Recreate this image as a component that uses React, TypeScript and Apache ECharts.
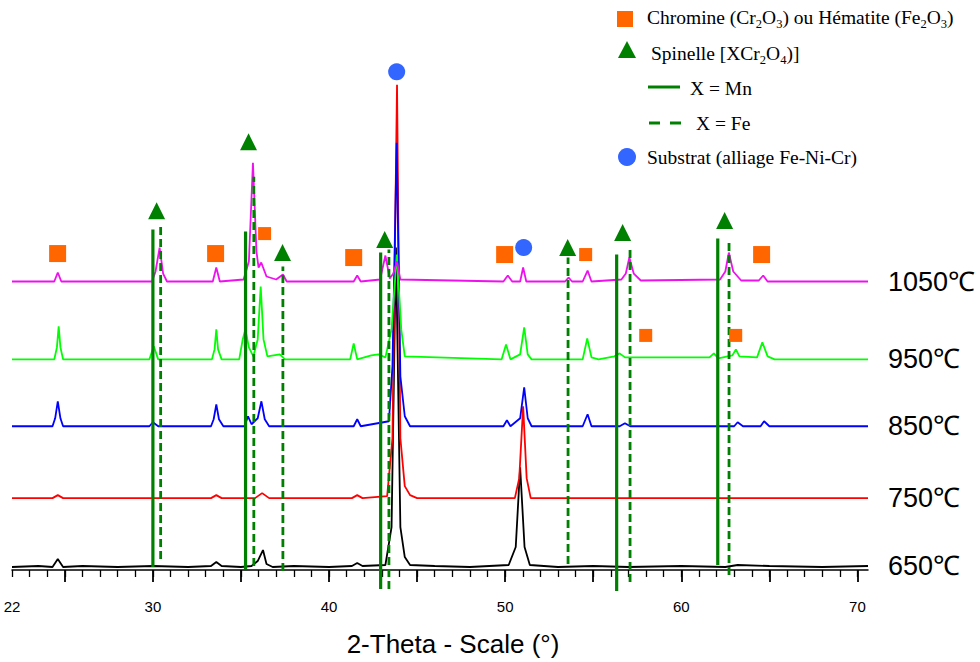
import React, { useEffect, useRef } from "react";
import * as echarts from "echarts";

// ---------- DATA ----------
const tempLabels = ["650℃", "750℃", "850℃", "950℃", "1050℃"];
const traceColors = ["#000000", "#FF0000", "#0000FF", "#00FF00", "#EE11EE"];
// vertical stacking offsets of each pattern (intensity units)
const offsets = [3, 72, 144, 211, 289];

// [2θ, intensity above baseline]
const trace650: [number, number][] = [
  [22, 0], [23.5, 1], [24.3, 0], [24.6, 8], [24.9, 0], [26, 1], [28, 0], [30, 1], [32, 0],
  [33.3, 1], [33.6, 5], [33.9, 1], [35, 0], [35.6, 1], [35.95, 6], [36.25, 17], [36.45, 3],
  [36.8, 0], [38, 1], [40, 0], [41.3, 1], [41.6, 4], [41.9, 1], [43.2, 2], [43.55, 40],
  [43.8, 320], [44.05, 40], [44.3, 10], [44.6, 2], [46, 1], [48, 0], [50.2, 2], [50.6, 20],
  [50.85, 100], [51.1, 20], [51.4, 2], [53, 0], [55, 1], [57, 0], [60, 1], [62.5, 0],
  [63.2, 2], [65, 1], [68, 0], [70.6, 1],
];
const trace750: [number, number][] = [
  [22, 0], [24.3, 0], [24.6, 3], [24.9, 0], [30, 0], [33.3, 0], [33.6, 3], [33.9, 0],
  [35.8, 0], [36.2, 5], [36.6, 0], [41.3, 0], [41.6, 3], [41.9, 0], [43.3, 2], [43.6, 60],
  [43.86, 414], [44.05, 60], [44.3, 12], [44.6, 3], [45, 0], [50.55, 0], [50.8, 20],
  [51.02, 92], [51.22, 20], [51.45, 0], [70.6, 0],
];
const trace850: [number, number][] = [
  [22, 0], [24.3, 0], [24.45, 8], [24.6, 25], [24.75, 8], [24.9, 0], [29.8, 0], [30, 4],
  [30.3, 0], [33.3, 0], [33.45, 7], [33.6, 22], [33.75, 7], [34, 0], [35.2, 0], [35.4, 10],
  [35.6, 2], [35.95, 8], [36.16, 25], [36.35, 7], [36.6, 0], [41.4, 0], [41.6, 7], [41.8, 0],
  [43.4, 5], [43.6, 60], [43.84, 284], [44.05, 50], [44.3, 10], [44.6, 0], [49.9, 0],
  [50.1, 6], [50.3, 0], [50.85, 8], [51.08, 39], [51.28, 8], [51.5, 0], [54.4, 0],
  [54.68, 12], [54.9, 0], [56.5, 0], [56.8, 3], [57.1, 0], [63, 0], [63.2, 4], [63.5, 0],
  [64.5, 0], [64.7, 5], [65, 0], [70.6, 0],
];
const trace950: [number, number][] = [
  [22, 0], [24.4, 0], [24.55, 12], [24.65, 33], [24.75, 12], [24.9, 0], [29.8, 0],
  [30.05, 13], [30.3, 0], [33.35, 0], [33.5, 10], [33.6, 30], [33.7, 10], [33.9, 0],
  [34.9, 0], [35.1, 20], [35.25, 30], [35.45, 12], [35.7, 3], [35.95, 20], [36.12, 73],
  [36.28, 20], [36.5, 3], [37.2, 5], [37.5, 0], [41.2, 0], [41.4, 16], [41.6, 0],
  [42.4, 4], [42.8, 5], [43.2, 2], [43.55, 30], [43.85, 105], [44.1, 30], [44.3, 3],
  [49.8, 0], [50.05, 15], [50.3, 0], [50.85, 5], [51.08, 32], [51.28, 5], [51.5, 0],
  [54.4, 0], [54.66, 21], [54.9, 2], [55.3, 0], [56.2, 3], [56.5, 6], [56.8, 2],
  [61.6, 2], [61.85, 6], [62.1, 1], [62.9, 4], [63.1, 10], [63.3, 3], [64.3, 2],
  [64.6, 17], [64.9, 3], [65.3, 0], [70.6, 0],
];
const trace1050: [number, number][] = [
  [22, 0], [24.4, 0], [24.6, 9], [24.8, 0], [29.95, 0], [30.15, 10], [30.38, 34],
  [30.58, 8], [30.8, 0], [33.4, 0], [33.6, 14], [33.8, 0], [35.15, 2], [35.45, 20],
  [35.68, 119], [35.88, 30], [36.0, 14], [36.15, 19], [36.45, 5], [37, 2], [37.38, 7],
  [37.6, 0], [41.4, 0], [41.6, 6], [41.8, 0], [42.9, 2], [43.2, 26], [43.45, 3],
  [43.65, 8], [43.85, 20], [44.05, 2], [49.9, 0], [50.15, 6], [50.4, 0], [50.85, 0],
  [51.02, 14], [51.2, 0], [53.4, 0], [53.6, 4], [53.8, 0], [54.4, 0], [54.68, 11],
  [54.9, 0], [56.6, 2], [56.85, 8], [57.05, 24], [57.3, 8], [57.7, 1], [62.2, 2],
  [62.5, 10], [62.7, 29], [62.95, 10], [63.4, 1], [64.4, 1], [64.65, 6], [64.9, 0],
  [70.6, 0],
];
const traces = [trace650, trace750, trace850, trace950, trace1050];

// reference lines [2θ, bottom, top]
const mnLines: [number, number, number][] = [
  [30.0, 3, 341], [35.26, 1, 339], [42.93, -19, 318], [56.33, -21, 316], [62.07, 5, 332],
];
const feLines: [number, number, number][] = [
  [30.44, 11, 344], [35.73, 4, 394], [37.38, -1, 304], [43.4, -19, 321],
  [53.57, 6, 313], [57.09, -12, 321], [62.71, -5, 329],
];

// phase markers [2θ, height]
const chromineLarge: [number, number][] = [
  [24.59, 317], [33.56, 317], [41.4, 313], [49.97, 316], [64.56, 316],
];
const chromineSmall: [number, number][] = [
  [36.34, 337], [54.57, 316], [57.98, 235], [63.09, 235],
];
const spinelle: [number, number][] = [
  [30.21, 360], [35.43, 429], [37.36, 318], [43.16, 331], [53.55, 323], [56.67, 338], [62.46, 350],
];
const substrat: [number, number][] = [[43.84, 499], [51.05, 323]];

const xMin = 22;
const xMax = 70.6;
const labelTicks = [22, 30, 40, 50, 60, 70];
const majorTicks = [25, 30, 35, 40, 45, 50, 55, 60, 65, 70];
const minorTicks = Array.from({ length: 49 }, (_, i) => 22 + i);

const GREEN = "#008000";
const ORANGE = "#FF6600";
const BLUE = "#3366FF";
const SERIF = "'Liberation Serif', 'Times New Roman', serif";
const SANS = "'Liberation Sans', Arial, sans-serif";

export default function App() {
  const ref = useRef<HTMLDivElement>(null);
  useEffect(() => {
    if (!ref.current) return;
    const chart = echarts.init(ref.current, undefined, { renderer: "svg" });

    const lineSeries = traces.map((t, i) => ({
      type: "line",
      name: tempLabels[i],
      data: t.map(([x, y]) => [x, y + offsets[i]]),
      showSymbol: false,
      symbol: "none",
      z: 2,
      lineStyle: { color: traceColors[i], width: 1.8 },
      itemStyle: { color: traceColors[i] },
      endLabel: {
        show: true,
        formatter: tempLabels[i],
        distance: 20,
        fontSize: 27,
        fontFamily: SANS,
        color: "#000",
      },
    }));

    const refLineSeries = (data: [number, number, number][], dashed: boolean) => ({
      type: "custom",
      z: 3,
      clip: false,
      data,
      renderItem: (params: any, api: any) => {
        const p1 = api.coord([api.value(0), api.value(1)]);
        const p2 = api.coord([api.value(0), api.value(2)]);
        return {
          type: "line",
          shape: { x1: p1[0], y1: p1[1], x2: p2[0], y2: p2[1] },
          style: {
            stroke: GREEN,
            lineWidth: dashed ? 2.8 : 3.2,
            lineDash: dashed ? [8, 4] : null,
          },
        };
      },
    });

    const rich = {
      a: { fontSize: 19.5, fontFamily: SERIF, color: "#000", lineHeight: 22, verticalAlign: "top" },
      s: { fontSize: 12.5, fontFamily: SERIF, color: "#000", lineHeight: 14, verticalAlign: "top", padding: [10, 0, 0, 0] },
    };

    const option: any = {
      animation: false,
      backgroundColor: "#fff",
      grid: { left: 12, right: 112, top: 0, bottom: 91 },
      xAxis: [
        {
          type: "value",
          min: xMin,
          max: xMax,
          position: "bottom",
          axisLine: { show: true, onZero: false, lineStyle: { color: "#000", width: 1.5 } },
          axisTick: { show: true, customValues: minorTicks, length: 7, lineStyle: { color: "#000", width: 1.3 } },
          axisLabel: {
            show: true,
            customValues: labelTicks,
            margin: 29,
            fontSize: 15,
            fontFamily: SANS,
            color: "#000",
          },
          splitLine: { show: false },
          name: "2-Theta - Scale (°)",
          nameLocation: "middle",
          nameGap: 61,
          nameTextStyle: { fontSize: 26, fontFamily: SANS, color: "#000", padding: [0, 0, 0, 26] },
        },
        {
          type: "value",
          min: xMin,
          max: xMax,
          position: "bottom",
          axisLine: { show: false, onZero: false },
          axisTick: { show: true, customValues: majorTicks, length: 12, lineStyle: { color: "#000", width: 1.8 } },
          axisLabel: { show: false },
          splitLine: { show: false },
        },
      ],
      yAxis: { type: "value", min: 0, max: 571, show: false, splitLine: { show: false } },
      series: [
        ...lineSeries,
        refLineSeries(mnLines, false),
        refLineSeries(feLines, true),
        { type: "scatter", z: 4, symbol: "rect", symbolSize: 17, data: chromineLarge, itemStyle: { color: ORANGE, opacity: 1 } },
        { type: "scatter", z: 4, symbol: "rect", symbolSize: 13, data: chromineSmall, itemStyle: { color: ORANGE, opacity: 1 } },
        { type: "scatter", z: 4, symbol: "triangle", symbolSize: 17, data: spinelle, itemStyle: { color: GREEN, opacity: 1 } },
        { type: "scatter", z: 4, symbol: "circle", symbolSize: 17, data: substrat, itemStyle: { color: BLUE, opacity: 1 } },
      ],
      graphic: [
        { type: "rect", shape: { x: 617, y: 11, width: 16, height: 16 }, style: { fill: ORANGE } },
        { type: "polygon", shape: { points: [[627, 41], [618, 58], [636, 58]] }, style: { fill: GREEN } },
        { type: "line", shape: { x1: 648, y1: 87, x2: 680, y2: 87 }, style: { stroke: GREEN, lineWidth: 3 } },
        { type: "line", shape: { x1: 649, y1: 123, x2: 681, y2: 123 }, style: { stroke: GREEN, lineWidth: 3, lineDash: [11, 10] } },
        { type: "circle", shape: { cx: 627, cy: 157, r: 9 }, style: { fill: BLUE } },
        {
          type: "text",
          x: 647,
          y: 7,
          style: {
            text: "{a|Chromine (Cr}{s|2}{a|O}{s|3}{a|) ou Hématite (Fe}{s|2}{a|O}{s|3}{a|)}",
            rich,
          },
        },
        {
          type: "text",
          x: 651,
          y: 43,
          style: { text: "{a|Spinelle [XCr}{s|2}{a|O}{s|4}{a|)]}", rich },
        },
        {
          type: "text",
          x: 690,
          y: 88,
          style: { text: "X = Mn", fontSize: 19.5, fontFamily: SERIF, fill: "#000", verticalAlign: "middle" },
        },
        {
          type: "text",
          x: 696,
          y: 123,
          style: { text: "X = Fe", fontSize: 19.5, fontFamily: SERIF, fill: "#000", verticalAlign: "middle" },
        },
        {
          type: "text",
          x: 647,
          y: 157,
          style: { text: "Substrat (alliage Fe-Ni-Cr)", fontSize: 19.5, fontFamily: SERIF, fill: "#000", verticalAlign: "middle" },
        },
      ],
    };
    chart.setOption(option);
    return () => chart.dispose();
  }, []);
  return (
    <div
      ref={ref}
      style={{ position: "fixed", left: 0, top: 0, width: 980, height: 662, background: "#fff" }}
    />
  );
}
